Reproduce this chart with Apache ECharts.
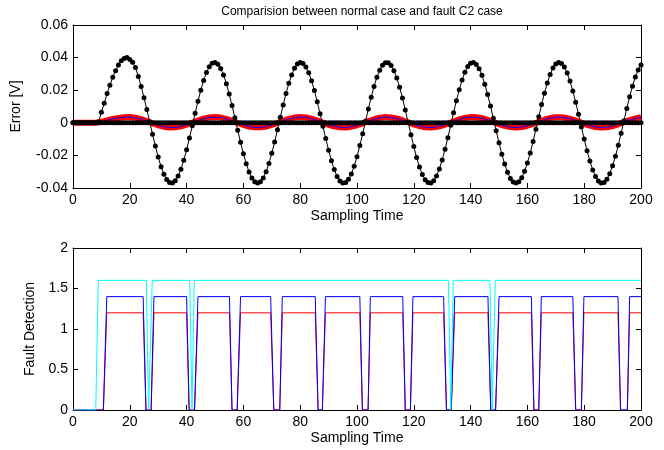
<!DOCTYPE html>
<html>
<head>
<meta charset="utf-8">
<script src="https://cdn.jsdelivr.net/npm/echarts@6/dist/echarts.min.js"></script>
<style>html,body{margin:0;padding:0;background:#fff}#c{width:664px;height:450px}</style>
</head>
<body>
<div id="c"></div>
<script>
// ---- Top plot: error signals, one sample per unit of sampling time ----
const faultErr = [
0,0,0,0,0,0,0,0,0,0.0005,
0.0065,0.012,0.018,0.023,0.028,0.032,0.0355,0.038,0.0395,0.040,
0.0388,0.0371,0.0339,0.0284,0.0223,0.0154,0.0082,0.0006,-0.0070,-0.0143,
-0.0210,-0.0269,-0.0315,-0.0348,-0.0367,-0.0369,-0.0356,-0.0327,-0.0285,-0.0230,
-0.0166,-0.0094,-0.0018,0.0058,0.0132,0.0200,0.0260,0.0309,0.0344,0.0365,
0.0370,0.0359,0.0333,0.0293,0.0240,0.0176,0.0106,0.0031,-0.0046,-0.0120,
-0.0190,-0.0251,-0.0302,-0.0339,-0.0362,-0.0370,-0.0362,-0.0338,-0.0300,-0.0249,
-0.0187,-0.0118,-0.0043,0.0034,0.0109,0.0179,0.0242,0.0294,0.0334,0.0360,
0.0370,0.0364,0.0343,0.0307,0.0258,0.0198,0.0129,0.0055,-0.0021,-0.0097,
-0.0168,-0.0233,-0.0287,-0.0329,-0.0357,-0.0369,-0.0366,-0.0347,-0.0314,-0.0267,
-0.0208,-0.0140,-0.0067,0.0009,0.0085,0.0157,0.0223,0.0279,0.0323,0.0353,
0.0368,0.0368,0.0351,0.0320,0.0275,0.0218,0.0152,0.0079,0.0003,-0.0073,
-0.0146,-0.0213,-0.0271,-0.0317,-0.0350,-0.0367,-0.0369,-0.0355,-0.0326,-0.0283,
-0.0228,-0.0163,-0.0091,-0.0015,0.0061,0.0135,0.0203,0.0262,0.0310,0.0345,
0.0365,0.0370,0.0358,0.0332,0.0291,0.0237,0.0174,0.0103,0.0028,-0.0049,
-0.0123,-0.0193,-0.0253,-0.0303,-0.0341,-0.0363,-0.0370,-0.0361,-0.0337,-0.0298,
-0.0247,-0.0185,-0.0115,-0.0040,0.0037,0.0112,0.0182,0.0244,0.0296,0.0336,
0.0360,0.0370,0.0364,0.0342,0.0305,0.0256,0.0195,0.0126,0.0052,-0.0025,
-0.0100,-0.0171,-0.0235,-0.0289,-0.0330,-0.0357,-0.0369,-0.0366,-0.0346,-0.0312,
-0.0264,-0.0205,-0.0138,-0.0064,0.0012,0.0088,0.0160,0.0225,0.0281,0.0324,
0.0354
];
const normalErr = [
0,0,0,0,0,0,0,0,0,0,0,0,0,0,0,0,0,0,0,0,
0,0,0,0,0,0,0,0,0,0,0,0,0,0,0,0,0,0,0,0,
0,0,0,0,0,0,0,0,0,0,0,0,0,0,0,0,0,0,0,0,
0,0,0,0,0,0,0,0,0,0,0,0,0,0,0,0,0,0,0,0,
0,0,0,0,0,0,0,0,0,0,0,0,0,0,0,0,0,0,0,0,
0,0,0,0,0,0,0,0,0,0,0,0,0,0,0,0,0,0,0,0,
0,0,0,0,0,0,0,0,0,0,0,0,0,0,0,0,0,0,0,0,
0,0,0,0,0,0,0,0,0,0,0,0,0,0,0,0,0,0,0,0,
0,0,0,0,0,0,0,0,0,0,0,0,0,0,0,0,0,0,0,0,
0,0,0,0,0,0,0,0,0,0,0,0,0,0,0,0,0,0,0,0,
0
];
// estimated error, one value per 2 units of sampling time
const estErr = [
0,0,0,0,0,0.0006,0.0015,0.0024,0.0030,0.0034,
0.0035,0.0031,0.0022,0.0010,-0.0003,-0.0015,-0.0024,-0.0029,-0.0028,-0.0022,
-0.0011,0.0001,0.0014,0.0025,0.0033,0.0035,0.0032,0.0024,0.0012,-0.0001,
-0.0013,-0.0023,-0.0028,-0.0028,-0.0023,-0.0013,-0.0001,0.0012,0.0024,0.0032,
0.0035,0.0033,0.0025,0.0014,0.0001,-0.0012,-0.0022,-0.0028,-0.0029,-0.0024,
-0.0015,-0.0003,0.0010,0.0022,0.0031,0.0035,0.0033,0.0027,0.0016,0.0003,
-0.0010,-0.0020,-0.0027,-0.0029,-0.0025,-0.0017,-0.0005,0.0008,0.0021,0.0030,
0.0035,0.0034,0.0028,0.0018,0.0005,-0.0008,-0.0019,-0.0026,-0.0029,-0.0026,
-0.0018,-0.0007,0.0006,0.0019,0.0029,0.0034,0.0034,0.0029,0.0020,0.0007,
-0.0006,-0.0017,-0.0026,-0.0029,-0.0027,-0.0020,-0.0009,0.0004,0.0017,0.0027,
0.0034
];
const estStep = 2;

// ---- Bottom plot: fault detection flags ----
const detX = [0,
10.7,11.9, 24.7,25.7, 27.5,28.5, 40.0,40.9, 42.8,44.0, 55.1,56.0, 57.8,59.0,
69.6,70.7, 72.8,73.7, 85.3,86.3, 87.8,88.9, 101.0,101.9, 103.9,104.7,
116.1,117.0, 118.8,119.7, 130.5,131.5, 133.2,134.4, 146.1,147.1, 148.8,150.0,
161.4,162.3, 164.0,164.9, 176.0,177.0, 179.0,179.9, 191.9,192.8, 195.2,196.0,
200];
const blueY = [0,
0,1.4, 1.4,0, 0,1.4, 1.4,0, 0,1.4, 1.4,0, 0,1.4,
1.4,0, 0,1.4, 1.4,0, 0,1.4, 1.4,0, 0,1.4,
1.4,0, 0,1.4, 1.4,0, 0,1.4, 1.4,0, 0,1.4,
1.4,0, 0,1.4, 1.4,0, 0,1.4, 1.4,0, 0,1.4,
1.4];
const redY = [0,
0,1.2, 1.2,0, 0,1.2, 1.2,0, 0,1.2, 1.2,0, 0,1.2,
1.2,0, 0,1.2, 1.2,0, 0,1.2, 1.2,0, 0,1.2,
1.2,0, 0,1.2, 1.2,0, 0,1.2, 1.2,0, 0,1.2,
1.2,0, 0,1.2, 1.2,0, 0,1.2, 1.2,0, 0,1.2,
1.2];
const cyanX = [0, 8.0, 8.9, 25.8, 26.6, 27.9, 41.1, 41.9, 42.7, 132.2, 133.0, 133.9, 146.8, 147.6, 148.7, 200];
const cyanY = [0, 0, 1.6, 1.6, 0, 1.6, 1.6, 0, 1.6, 1.6, 0, 1.6, 1.6, 0, 1.6, 1.6];

const titleText = 'Comparision between normal case and fault C2 case';
const xName = 'Sampling Time';
const yNameTop = 'Error [V]';
const yNameBottom = 'Fault Detection';

const FONT = '"Liberation Sans", Arial, sans-serif';
const txt = {color: '#000', fontFamily: FONT, fontSize: 14};

const pairs = (xs, ys) => ys.map((y, i) => [xs[i], y]);
const sampleTime = faultErr.map((_, i) => i);
const estTime = estErr.map((_, i) => i * estStep);

function xAx(grid, primary) {
  return {
    type: 'value', gridIndex: grid, min: 0, max: 200, interval: 20,
    position: primary ? 'bottom' : 'top',
    name: primary ? xName : '', nameLocation: 'middle', nameGap: 21,
    nameTextStyle: txt,
    axisLine: {show: true, onZero: false, lineStyle: {color: '#000', width: 1}},
    axisTick: {show: true, inside: true, length: 5, lineStyle: {color: '#000'}},
    axisLabel: {show: primary, margin: 5, ...txt},
    splitLine: {show: false}
  };
}
function yAx(grid, primary, min, max, interval, name, gap, fmt) {
  return {
    type: 'value', gridIndex: grid, min, max, interval,
    position: primary ? 'left' : 'right',
    name: primary ? name : '', nameLocation: 'middle', nameGap: gap,
    nameTextStyle: txt,
    axisLine: {show: true, onZero: false, lineStyle: {color: '#000', width: 1}},
    axisTick: {show: true, inside: true, length: 5, lineStyle: {color: '#000'}},
    axisLabel: {show: primary, margin: 5, formatter: fmt, ...txt},
    splitLine: {show: false}
  };
}

const chart = echarts.init(document.getElementById('c'), null, {renderer: 'canvas'});
chart.setOption({
  animation: false,
  backgroundColor: '#fff',
  title: {text: titleText, left: 357, top: 1, textAlign: 'center',
    textStyle: {color: '#000', fontFamily: FONT, fontSize: 12, fontWeight: 'normal'}},
  grid: [
    {left: 73, top: 25, width: 568, height: 163},
    {left: 73, top: 248, width: 568, height: 162}
  ],
  xAxis: [xAx(0, true), xAx(0, false), xAx(1, true), xAx(1, false)],
  yAxis: [
    yAx(0, true, -0.04, 0.06, 0.02, yNameTop, 50, v => String(+v.toFixed(2))),
    yAx(0, false, -0.04, 0.06, 0.02, '', 0),
    yAx(1, true, 0, 2, 0.5, yNameBottom, 33, v => String(+v.toFixed(1))),
    yAx(1, false, 0, 2, 0.5, '', 0)
  ],
  series: [
    {type: 'line', xAxisIndex: 0, yAxisIndex: 0, data: pairs(sampleTime, normalErr),
      symbol: 'circle', symbolSize: 5, showAllSymbol: true,
      itemStyle: {color: '#000'}, lineStyle: {color: '#000', width: 1}},
    {type: 'line', xAxisIndex: 0, yAxisIndex: 0, data: pairs(estTime, estErr),
      showSymbol: false, lineStyle: {color: '#ff0000', width: 6}},
    {type: 'line', xAxisIndex: 0, yAxisIndex: 0, data: pairs(estTime, estErr),
      showSymbol: false, lineStyle: {color: '#0000ff', width: 1}},
    {type: 'line', xAxisIndex: 0, yAxisIndex: 0, data: pairs(sampleTime, faultErr),
      symbol: 'circle', symbolSize: 5, showAllSymbol: true,
      itemStyle: {color: '#000'}, lineStyle: {color: '#000', width: 1}},
    {type: 'line', xAxisIndex: 2, yAxisIndex: 2, data: pairs(detX, redY),
      showSymbol: false, lineStyle: {color: '#ff0000', width: 1}},
    {type: 'line', xAxisIndex: 2, yAxisIndex: 2, data: pairs(detX, blueY),
      showSymbol: false, lineStyle: {color: '#0000ff', width: 1}},
    {type: 'line', xAxisIndex: 2, yAxisIndex: 2, data: pairs(cyanX, cyanY),
      showSymbol: false, lineStyle: {color: '#00ffff', width: 1}}
  ]
});
</script>
</body>
</html>
